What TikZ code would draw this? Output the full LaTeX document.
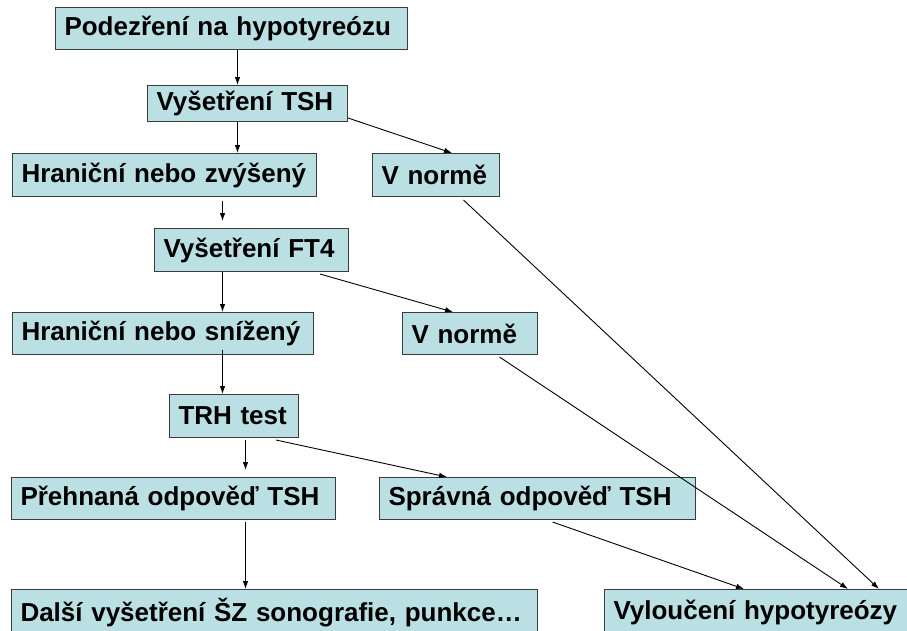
\documentclass[tikz,border=0pt]{standalone}
\usepackage{fontspec}
\setmainfont{Liberation Sans}
\usetikzlibrary{arrows.meta}
\definecolor{boxfill}{RGB}{187,224,228}
\definecolor{boxline}{RGB}{60,60,60}

\begin{document}
\begin{tikzpicture}[
    x=1pt, y=-1pt,
    every node/.style={font=\bfseries\fontsize{26}{30}\selectfont},
    box/.style={rectangle, draw=boxline, line width=1pt, fill=boxfill, anchor=north west, inner xsep=9pt, inner ysep=0pt, align=left, minimum height=42pt},
    arrow/.style={-{Latex[length=8pt, width=5.5pt]}, line width=0.9pt}
]
\useasboundingbox (0,0) rectangle (907,630);

% --- TSH step ---
\node[box, text width=334pt] (susp) at (55,7) {Podezření na hypotyreózu};
\node[box, text width=182pt, minimum height=36pt] (tsh) at (147,85) {Vyšetření TSH};
\node[box, text width=286pt, minimum height=43pt] (tshHigh) at (12,153) {Hraniční nebo zvýšený};
\node[box, text width=109pt, minimum height=43pt] (tshNorm) at (372,153) {V normě};

% --- FT4 step ---
\node[box, text width=176pt, minimum height=43pt] (ft4) at (154,228) {Vyšetření FT4};
\node[box, text width=283pt] (ft4Low) at (12,312) {Hraniční nebo snížený};
\node[box, text width=117pt] (ft4Norm) at (402,312) {V normě};

% --- TRH step ---
\node[box, text width=111pt, minimum height=43pt] (trh) at (169,394) {TRH test};
\node[box, text width=306pt] (trhOver) at (11,477) {Přehnaná odpověď TSH};
\node[box, text width=298pt] (trhOk) at (379,477) {Správná odpověď TSH};

% --- Outcomes ---
\node[box, text width=508pt, minimum height=46pt] (further) at (11,589) {Další vyšetření ŠZ sonografie, punkce…};
\node[box, text width=330pt, minimum height=46pt] (excl) at (604,589) {Vyloučení hypotyreózy};

% --- Main column ---
\draw[arrow] ([xshift=6pt]susp.south) -- ([xshift=6pt]susp.south |- tsh.north);
\draw[arrow] ([xshift=-10pt]tsh.south) -- ([xshift=-10pt]tsh.south |- tshHigh.north);
\draw[arrow, shorten >=7pt] ([xshift=58pt, yshift=-4pt]tshHigh.south) -- ([xshift=58pt]tshHigh.south |- ft4.north);
\draw[arrow] ([xshift=-29pt]ft4.south) -- ([xshift=-29pt]ft4.south |- ft4Low.north);
\draw[arrow] ([xshift=-11.5pt, yshift=5pt]trh.north |- ft4Low.south) -- ([xshift=-11.5pt]trh.north);
\draw[arrow, shorten >=7pt] ([xshift=11.5pt, yshift=-2pt]trh.south) -- ([xshift=11.5pt]trh.south |- trhOver.north);
\draw[arrow] ([xshift=72pt, yshift=-2pt]trhOver.south) -- ([xshift=72pt]trhOver.south |- further.north);

% --- Side branches ---
\draw[arrow] ([yshift=4pt]tsh.south east) -- ([xshift=16pt]tshNorm.north);
\draw[arrow] ([xshift=-29pt, yshift=-2pt]ft4.south east) -- ([xshift=51pt]ft4Norm.north west);
\draw[arrow] ([xshift=-23pt, yshift=-2pt]trh.south east) -- ([xshift=68pt]trhOk.north west);

% --- To exclusion ---
\draw[arrow] ([xshift=15pt, yshift=-2pt]trhOk.south) -- ([xshift=140pt]excl.north west);
\draw[arrow] ([xshift=29.5pt, yshift=-2pt]ft4Norm.south) -- ([xshift=244pt]excl.north west);
\draw[arrow] ([xshift=27.5pt, yshift=-3pt]tshNorm.south) -- ([xshift=275pt]excl.north west);
\end{tikzpicture}
\end{document}
